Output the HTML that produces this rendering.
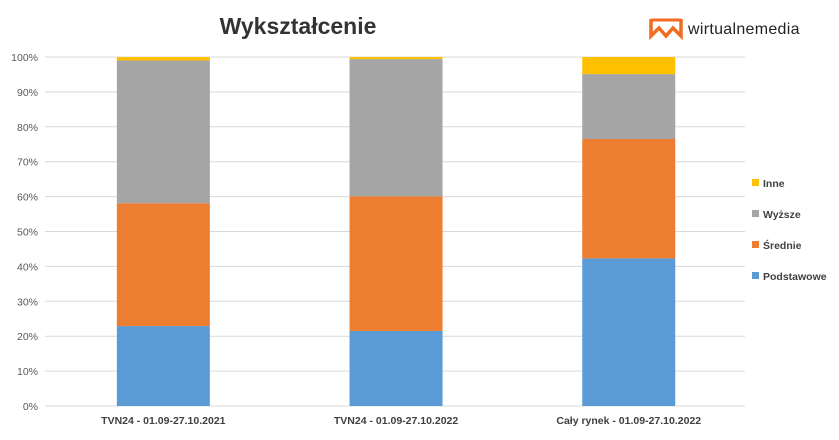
<!DOCTYPE html>
<html><head><meta charset="utf-8"><style>
body{margin:0;background:#fff;}
svg{display:block;font-family:"Liberation Sans",sans-serif;}
</style></head><body>
<svg id="c" width="839" height="440">
<rect width="839" height="440" fill="#fff"/>
<text x="298" y="34" text-anchor="middle" font-size="23" font-weight="bold" fill="#333">Wykształcenie</text>
<g>
<path d="M651 19 L651 36 L659 28 L666 36 L673 28 L681 36 L681 19" fill="none" stroke="#f26b21" stroke-width="3.5" stroke-linejoin="miter"/>
<path d="M651 20 L666 20 L681 20" fill="none" stroke="#f26b21" stroke-width="3"/>
<text x="688" y="34" font-size="16" fill="#222" letter-spacing="0.3">wirtualnemedia</text>
</g>
<g id="grid"></g><g id="bars"></g><g id="labels"></g><g id="legend"></g>
</svg>
<script>
const categories=["TVN24 - 01.09-27.10.2021","TVN24 - 01.09-27.10.2022","Cały rynek - 01.09-27.10.2022"];
const seriesNames=["Podstawowe","Średnie","Wyższe","Inne"];
const podstawowe=[22.9,21.5,42.3];
const srednie=[35.2,38.6,34.2];
const wyzsze=[40.9,39.3,18.6];
const inne=[1.0,0.6,4.9];
const ticks=[0,10,20,30,40,50,60,70,80,90,100];
const colors=["#5b9bd5","#ed7d31","#a5a5a5","#ffc000"];
const NS="http://www.w3.org/2000/svg";
const y0=406,y1=57,xL=45,xR=745;
const y=v=>y0-(v/100)*(y0-y1);
const bandStart=47,band=232.7,barW=93;
const xc=i=>bandStart+band*(i+0.5);
function mk(t,a,p){const e=document.createElementNS(NS,t);for(const k in a)e.setAttribute(k,a[k]);p.appendChild(e);return e;}
const grid=document.getElementById('grid'),bars=document.getElementById('bars'),lab=document.getElementById('labels'),leg=document.getElementById('legend');
ticks.forEach(t=>{
 const l=mk('line',{x1:xL,x2:xR,y1:y(t),y2:y(t),stroke:'#d9d9d9','stroke-width':1},grid);
 
 
 const tx=mk('text',{x:38,y:y(t)+4,'text-anchor':'end','font-size':10.5,fill:'#595959'},grid);
 tx.textContent=t+'%';
 
 
});
const series=[podstawowe,srednie,wyzsze,inne];
categories.forEach((c,i)=>{
 let acc=0;
 series.forEach((s,j)=>{
  const r=mk('rect',{x:xc(i)-barW/2,y:y(acc+s[i]),width:barW,height:y(acc)-y(acc+s[i]),fill:colors[j]},bars);
  
  
  acc+=s[i];
 });
 const t=mk('text',{x:xc(i),y:424,'text-anchor':'middle','font-size':10.5,'font-weight':'bold',fill:'#404040'},lab);
 t.textContent=c;
 
 
});
const legY=[276,245,214,183];
seriesNames.forEach((n,j)=>{
 const g=mk('g',{},leg);
 
 
 mk('rect',{x:752,y:legY[j]-4,width:7,height:7,fill:colors[j]},g);
 const t=mk('text',{x:763,y:legY[j]+4,'font-size':10.5,'font-weight':'bold',fill:'#404040'},g);
 t.textContent=n;
});
</script>
</body></html>
